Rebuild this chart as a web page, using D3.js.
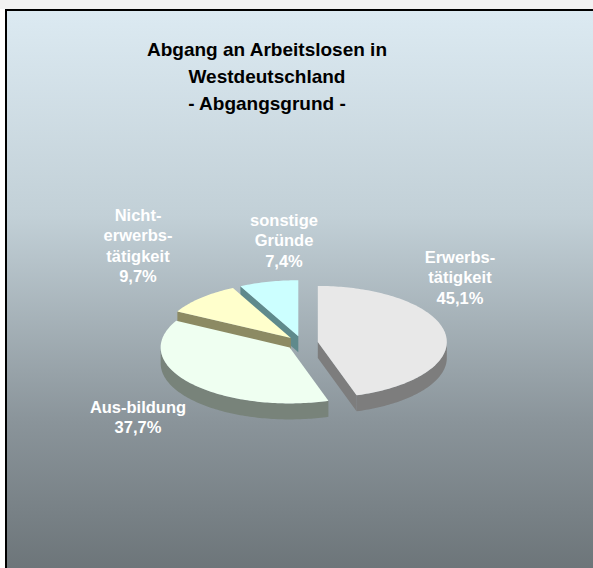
<!DOCTYPE html>
<html>
<head>
<meta charset="utf-8">
<script src="https://cdn.jsdelivr.net/npm/d3@7"></script>
<style>
  body { margin: 0; background: #fff; overflow: hidden; }
  text { font-family: "Liberation Sans", Arial, sans-serif; font-weight: bold; }
</style>
</head>
<body>
<svg id="chart" width="593" height="568"></svg>
<script>
// Data
const categories = ['Erwerbstätigkeit', 'Ausbildung', 'Nichterwerbstätigkeit', 'sonstige Gründe'];
const shares = [45.1, 37.7, 9.7, 7.4];
const labelLines = [['Erwerbs-', 'tätigkeit'], ['Aus-bildung'], ['Nicht-', 'erwerbs-', 'tätigkeit'], ['sonstige', 'Gründe']];
const percentLabels = ['45,1%', '37,7%', '9,7%', '7,4%'];
const titleLines = ['Abgang an Arbeitslosen in', 'Westdeutschland', '- Abgangsgrund -'];

// Layout / style
const width = 593;
const height = 568;
const cx = 302;
const cy = 343;
const rx = 129;
const ry = 56;
const depth = 16;
const explode = 16;
const topColors = ['#e8e8e8', '#effff1', '#ffffcc', '#ccffff'];
const wallColors = ['#7d7d7d', '#78837a', '#8c8a63', '#5f8a8c'];
// first baseline of each label, relative to pie centre
const labelOffsets = [[158, -80], [-164, 70], [-164, -122], [-18, -117]];

const svg = d3.select('#chart');

// background with vertical gradient
const grad = svg.append('defs').append('linearGradient')
  .attr('id', 'bg').attr('x1', 0).attr('y1', 0).attr('x2', 0).attr('y2', 1);
grad.append('stop').attr('offset', '0%').attr('stop-color', '#dceaf2');
grad.append('stop').attr('offset', '35%').attr('stop-color', '#c2d0d7');
grad.append('stop').attr('offset', '70%').attr('stop-color', '#8a949a');
grad.append('stop').attr('offset', '100%').attr('stop-color', '#676f73');

svg.append('rect').attr('x', 0).attr('y', 0).attr('width', width).attr('height', 9)
  .attr('fill', '#f2f2f2');
svg.append('rect')
  .attr('x', 6).attr('y', 10).attr('width', width + 20).attr('height', height + 20)
  .attr('fill', 'url(#bg)')
  .attr('stroke', '#000').attr('stroke-width', 2);

// title
svg.append('g').selectAll('text').data(titleLines).enter().append('text')
  .attr('x', 267).attr('y', (d, i) => 56 + i * 27)
  .attr('text-anchor', 'middle').attr('font-size', 19).attr('fill', '#000')
  .text(d => d);

const pie = d3.pie().sort(null).value(d => d);
const arcs = pie(shares).map((a, i) => {
  const mid = (a.startAngle + a.endAngle) / 2;
  return {
    ...a,
    i,
    mid,
    ox: cx + explode * Math.sin(mid),
    oy: cy - explode * (ry / rx) * Math.cos(mid),
  };
});

function pt(s, ang, dz) {
  return [s.ox + rx * Math.sin(ang), s.oy - ry * Math.cos(ang) + (dz || 0)];
}
function arcPoints(s, a0, a1, dz) {
  const n = Math.max(2, Math.ceil(Math.abs(a1 - a0) / 0.02));
  return d3.range(n + 1).map(k => pt(s, a0 + ((a1 - a0) * k) / n, dz));
}
const line = d3.line();

// walls, back slices first
const walls = svg.append('g');
arcs.slice().sort((a, b) => a.oy - b.oy).forEach((s) => {
  const c = [s.ox, s.oy];
  const cd = [s.ox, s.oy + depth];
  // radial walls facing the viewer
  [[s.startAngle, Math.sin(s.startAngle) < -1e-6], [s.endAngle, Math.sin(s.endAngle) > 1e-6]]
    .forEach(([ang, visible]) => {
      if (!visible) return;
      const p = pt(s, ang);
      const pd = pt(s, ang, depth);
      walls.append('path').attr('d', `${line([c, p, pd, cd])}Z`)
        .attr('fill', wallColors[s.i]);
    });
  // outer wall (front half only)
  const lo = Math.max(s.startAngle, Math.PI / 2);
  const hi = Math.min(s.endAngle, (3 * Math.PI) / 2);
  if (hi > lo) {
    const pts = arcPoints(s, lo, hi, 0).concat(arcPoints(s, hi, lo, depth));
    walls.append('path').attr('d', `${line(pts)}Z`).attr('fill', wallColors[s.i]);
  }
});

// top faces
svg.append('g').selectAll('path').data(arcs).enter().append('path')
  .attr('d', s => `${line([[s.ox, s.oy]].concat(arcPoints(s, s.startAngle, s.endAngle, 0)))}Z`)
  .attr('fill', s => topColors[s.i]);

// labels
const labels = svg.append('g').selectAll('text').data(arcs).enter().append('text')
  .attr('text-anchor', 'middle').attr('font-size', 16.5).attr('fill', '#fff')
  .attr('x', s => cx + labelOffsets[s.i][0])
  .attr('y', s => cy + labelOffsets[s.i][1]);
labels.each(function (s) {
  const t = d3.select(this);
  labelLines[s.i].concat(percentLabels[s.i]).forEach((txt, k) => {
    t.append('tspan').attr('x', cx + labelOffsets[s.i][0]).attr('dy', k === 0 ? 0 : 20.3).text(txt);
  });
});
labels.append('title').text(s => categories[s.i]);
</script>
</body>
</html>
